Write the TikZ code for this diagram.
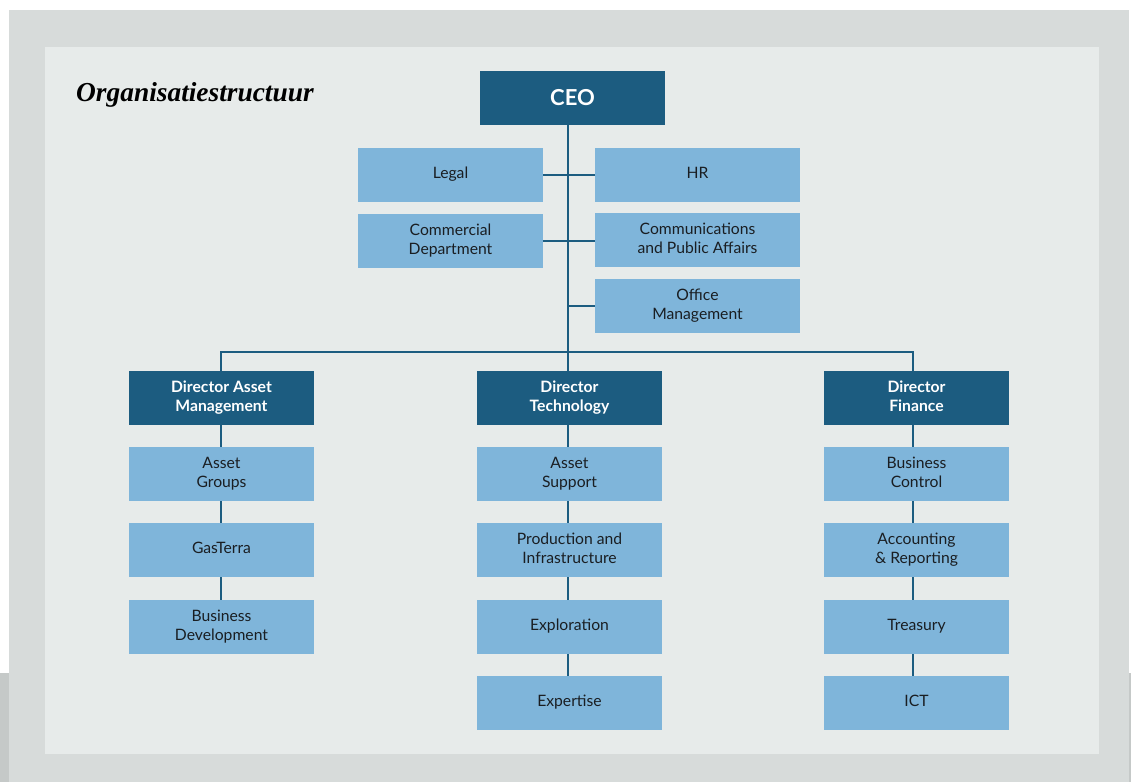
\documentclass[tikz,border=0pt]{standalone}
\usepackage{fontspec}
\setmainfont{Lato}
\newfontfamily\titlefont{Liberation Serif}
\usepackage{tikz}

\definecolor{darkblue}{HTML}{1C5C80}
\definecolor{lightblue}{HTML}{7FB5DA}
\definecolor{framegrey}{HTML}{D7DBDA}
\definecolor{panelgrey}{HTML}{E7EBEA}
\definecolor{backgrey}{HTML}{C5C9C8}
\definecolor{textdark}{HTML}{1A1E22}

% struts that centre the capitals in the boxes
\newcommand\boxstrut{\rule[-3.9pt]{0pt}{15.4pt}}
\newcommand\ceostrut{\rule[-2.2pt]{0pt}{22pt}}

\begin{document}
\begin{tikzpicture}[x=1pt,y=-1pt,
	head/.style={rectangle,fill=darkblue,text=white,font=\bfseries\fontsize{15.7}{19}\selectfont,
		minimum width=185pt,minimum height=54pt,align=center,inner sep=0pt,
		execute at begin node=\boxstrut,execute at end node=\boxstrut},
	unit/.style={rectangle,fill=lightblue,text=textdark,font=\fontsize{15.7}{19}\selectfont,
		minimum width=185pt,minimum height=54pt,align=center,inner sep=0pt,
		execute at begin node=\boxstrut,execute at end node=\boxstrut},
	link/.style={draw=darkblue,line width=1.3pt}]
	
	\useasboundingbox (0,0) rectangle (1131,782);
	\fill[backgrey] (0,673) rectangle (1131,782);
	\fill[framegrey] (9,10) rectangle (1129,782);
	\fill[panelgrey] (45,47) rectangle (1099,754);
	
	\node[anchor=base west,inner sep=0pt,font=\titlefont\bfseries\itshape\fontsize{27.4}{32}\selectfont] (title) at (76,101) {Organisatiestructuur};
	
	\node[head,font=\bfseries\fontsize{22}{26}\selectfont,
		execute at begin node=\ceostrut,execute at end node=\ceostrut] (ceo) at (572.5, 98) {CEO};
	
	\node[unit] (legal)  at (450.5, 175) {Legal};
	\node[unit,minimum width=205pt] (hr) at (697.5, 175) {HR};
	\node[unit] (comm)   at (450.5, 241) {Commercial\\Department};
	\node[unit,minimum width=205pt] (cpa) at (697.5, 240) {Communications\\and Public Affairs};
	\node[unit,minimum width=205pt] (office) at (697.5, 306) {Office\\Management};
	
	% trunk and branch columns
	\coordinate (hub) at (568, 352);
	\coordinate (colleft) at (221, 352);
	\coordinate (colright) at (913, 352);
	
	\node[head] (dam)  at (221.5, 398) {Director Asset\\Management};
	\node[head] (dtech) at (569.5, 398) {Director\\Technology};
	\node[head] (dfin) at (916.5, 398) {Director\\Finance};
	
	\node[unit] (groups)  at (221.5, 474) {Asset\\Groups};
	\node[unit] (gasterra) at (221.5, 550) {GasTerra};
	\node[unit] (busdev)  at (221.5, 627) {Business\\Development};
	
	\node[unit] (support) at (569.5, 474) {Asset\\Support};
	\node[unit] (prod)    at (569.5, 550) {Production and\\Infrastructure};
	\node[unit] (explor)  at (569.5, 627) {Exploration};
	\node[unit] (expert)  at (569.5, 703) {Expertise};
	
	\node[unit] (control) at (916.5, 474) {Business\\Control};
	\node[unit] (account) at (916.5, 550) {Accounting\\\& Reporting};
	\node[unit] (treas)   at (916.5, 627) {Treasury};
	\node[unit] (ict)     at (916.5, 703) {ICT};
	
	\path[link] (ceo.south -| hub) -- (hub);
	\path[link] (legal.east) -- (hr.west);
	\path[link] (comm.east) -- (comm.east -| cpa.west);
	\path[link] (office.west) -- (office.west -| hub);
	\path[link] (colleft |- dam.north) -- (colleft) -- (colright) -- (colright |- dfin.north);
	\path[link] (hub) -- (hub |- dtech.north);
	
	% columns below the directors
	\foreach \a/\b in {dam/groups,groups/gasterra,gasterra/busdev}
		\path[link] (colleft |- \a.south) -- (colleft |- \b.north);
	\foreach \a/\b in {dtech/support,support/prod,prod/explor,explor/expert}
		\path[link] (hub |- \a.south) -- (hub |- \b.north);
	\foreach \a/\b in {dfin/control,control/account,account/treas,treas/ict}
		\path[link] (colright |- \a.south) -- (colright |- \b.north);
	
\end{tikzpicture}
\end{document}
